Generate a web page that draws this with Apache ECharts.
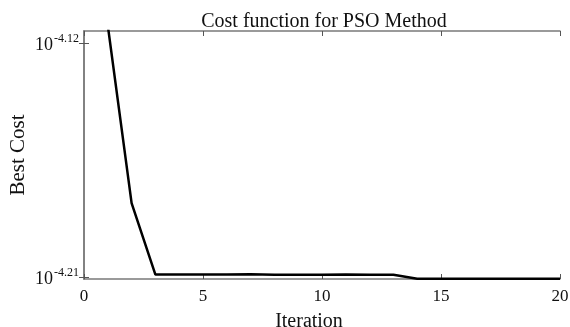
<!DOCTYPE html>
<html lang="en">
<head>
    <meta charset="UTF-8">
    <title>Cost function for PSO Method</title>
    <script src="https://cdn.jsdelivr.net/npm/echarts@6/dist/echarts.min.js"></script>
    <style>
        body { margin: 0; background: #fff; }
    </style>
</head>
<body>
    <div id="chartDiv" style="width: 570px;height:327px;"></div>
    <script>
        // iterations and best cost (stored as log10 exponent, y axis is logarithmic)
        var iterations = [1, 2, 3, 4, 5, 6, 7, 8, 9, 10, 11, 12, 13, 14, 15, 16, 17, 18, 19, 20];
        var bestCostExp = [-4.1130, -4.1813, -4.2088, -4.2088, -4.2088, -4.2088, -4.2087, -4.2089, -4.2089, -4.2089,
                           -4.2088, -4.2089, -4.2089, -4.2104, -4.2104, -4.2104, -4.2104, -4.2104, -4.2104, -4.2104];
        var xTicks = [0, 5, 10, 15, 20];
        var yTicks = [-4.21, -4.12];

        var serif = '"Liberation Serif", "DejaVu Serif", serif';
        var boxColor = '#7a7a7a';

        var myChart = echarts.init(document.getElementById('chartDiv'));

        var points = iterations.map(function (it, i) {
            return [it, bestCostExp[i]];
        });

        var option = {
            backgroundColor: '#fff',
            animation: false,
            title: {
                text: 'Cost function for PSO Method',
                left: 319,
                textAlign: 'center',
                top: 7,
                textStyle: { fontFamily: serif, fontSize: 20, fontWeight: 'normal', color: '#111' }
            },
            // y axis title, placed by hand (axis name gets pushed around in v6)
            graphic: [{
                type: 'text',
                x: 18,
                y: 155,
                rotation: Math.PI / 2,
                style: {
                    text: 'Best Cost',
                    font: '21px ' + serif,
                    fill: '#111',
                    align: 'center',
                    verticalAlign: 'middle'
                }
            }],
            grid: { left: 84, top: 31, right: 10, bottom: 48, containLabel: false, outerBoundsMode: 'none' },
            xAxis: [{
                type: 'value',
                min: 0,
                max: 20,
                interval: 5,
                name: 'Iteration',
                nameLocation: 'middle',
                nameGap: 33,
                nameTextStyle: { fontFamily: serif, fontSize: 20, color: '#111', padding: [0, 26, 0, 0] },
                axisLine: { show: true, lineStyle: { color: boxColor, width: 1.5 } },
                axisTick: { show: true, inside: true, length: 5, lineStyle: { color: '#555' } },
                axisLabel: { fontFamily: serif, fontSize: 17, color: '#111', margin: 9,
                             customValues: xTicks },
                splitLine: { show: false }
            }, {
                type: 'value',
                position: 'top',
                min: 0,
                max: 20,
                interval: 5,
                axisLine: { show: true, lineStyle: { color: boxColor, width: 1.5 } },
                axisTick: { show: true, inside: true, length: 5, lineStyle: { color: '#555' } },
                axisLabel: { show: false },
                splitLine: { show: false }
            }],
            yAxis: [{
                type: 'value',
                min: -4.2105,
                max: -4.1151,
                axisLine: { show: true, lineStyle: { color: boxColor, width: 1.5 } },
                axisTick: { show: true, inside: true, length: 5, customValues: yTicks, lineStyle: { color: '#555' } },
                axisLabel: {
                    customValues: yTicks,
                    margin: 5,
                    formatter: function (v) {
                        return '{b|10}{e|' + v.toFixed(2) + '}';
                    },
                    rich: {
                        b: { fontFamily: serif, fontSize: 18, color: '#111', padding: [3, 0, 0, 0] },
                        e: { fontFamily: serif, fontSize: 12, color: '#111', padding: [0, 0, 10, 1] }
                    }
                },
                splitLine: { show: false }
            }, {
                type: 'value',
                position: 'right',
                min: -4.2105,
                max: -4.1151,
                axisLine: { show: true, lineStyle: { color: boxColor, width: 1.5 } },
                axisTick: { show: true, inside: true, length: 5, customValues: yTicks, lineStyle: { color: '#555' } },
                axisLabel: { show: false },
                splitLine: { show: false }
            }],
            series: [{
                name: 'Best Cost',
                type: 'line',
                xAxisIndex: 0,
                yAxisIndex: 0,
                data: points,
                symbol: 'none',
                clip: true,
                lineStyle: { color: '#000', width: 2.5 }
            }]
        };

        myChart.setOption(option, true);
    </script>
</body>
</html>
